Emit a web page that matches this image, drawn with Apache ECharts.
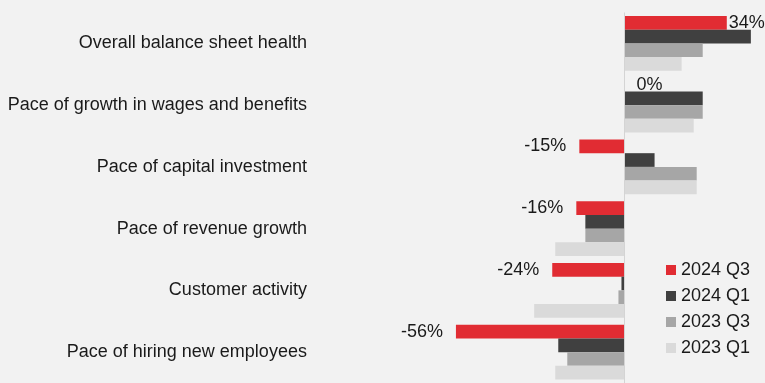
<!DOCTYPE html>
<html>
<head>
<meta charset="utf-8">
<script src="https://cdn.jsdelivr.net/npm/echarts@6/dist/echarts.min.js"></script>
<style>
  html, body { margin: 0; padding: 0; background: #f2f2f2; }
  #chart { width: 765px; height: 383px; }
</style>
</head>
<body>
<div id="chart"></div>
<script>
// Survey categories, top to bottom
const categories = [
  'Overall balance sheet health',
  'Pace of growth in wages and benefits',
  'Pace of capital investment',
  'Pace of revenue growth',
  'Customer activity',
  'Pace of hiring new employees'
];

// Net balance (%) per survey wave
const wave2024Q3 = [34, 0, -15, -16, -24, -56];
const wave2024Q1 = [42, 26, 10, -13, -1, -22];
const wave2023Q3 = [26, 26, 24, -13, -2, -19];
const wave2023Q1 = [19, 23, 24, -23, -30, -23];

const seriesNames = ['2024 Q3', '2024 Q1', '2023 Q3', '2023 Q1'];
const seriesColors = ['#e12c33', '#404040', '#a6a6a6', '#dadada'];

const FONT = "'Liberation Sans', Arial, sans-serif";

// Only the latest wave carries value labels; the label sits outside the bar end
function labelledData(values) {
  return values.map(v => {
    let label;
    if (v < 0) label = { position: 'left', distance: 13 };
    else if (v === 0) label = { position: 'right', distance: 12 };
    else label = { position: 'right', distance: 2 };
    return { value: v, label: label };
  });
}

const chart = echarts.init(document.getElementById('chart'), null, { renderer: 'canvas' });

const series = [wave2024Q3, wave2024Q1, wave2023Q3, wave2023Q1].map((vals, i) => {
  const s = {
    name: seriesNames[i],
    type: 'bar',
    data: i === 0 ? labelledData(vals) : vals,
    barGap: '0%',
    barCategoryGap: '11.3%',
    itemStyle: { color: seriesColors[i] },
    animation: false,
    silent: true
  };
  if (i === 0) {
    s.label = {
      show: true,
      formatter: p => p.value + '%',
      color: '#1a1a1a',
      fontFamily: FONT,
      fontSize: 18
    };
    // thin zero reference line
    s.markLine = {
      silent: true,
      symbol: ['none', 'none'],
      label: { show: false },
      lineStyle: { color: '#d4d4d4', type: 'solid', width: 1 },
      data: [{ xAxis: 0 }],
      animation: false
    };
  }
  return s;
});

chart.setOption({
  backgroundColor: '#f2f2f2',
  animation: false,
  grid: { left: 443.9, top: 12.5, width: 316, height: 372, containLabel: false },
  xAxis: {
    type: 'value',
    min: -60,
    max: 45,
    show: false
  },
  yAxis: {
    type: 'category',
    data: categories,
    inverse: true,
    axisLine: { show: false, onZero: false },
    axisTick: { show: false },
    axisLabel: {
      margin: 137,
      color: '#1a1a1a',
      fontFamily: FONT,
      fontSize: 18
    }
  },
  legend: {
    orient: 'vertical',
    left: 661,
    top: 255,
    icon: 'rect',
    itemWidth: 10,
    itemHeight: 10,
    itemGap: 6,
    data: seriesNames,
    textStyle: { color: '#1a1a1a', fontFamily: FONT, fontSize: 18, lineHeight: 20 }
  },
  series: series
});
</script>
</body>
</html>
